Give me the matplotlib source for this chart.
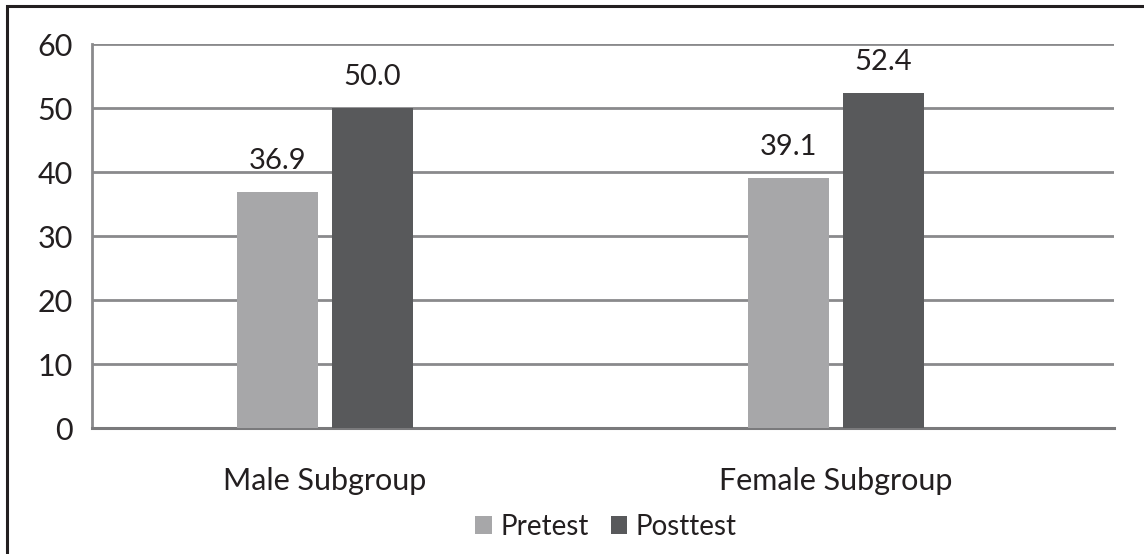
import matplotlib.pyplot as plt
from matplotlib.patches import Rectangle

plt.rcParams['font.family'] = ['Lato', 'DejaVu Sans']

# data
groups = ["Male Subgroup", "Female Subgroup"]
pretest = [36.9, 39.1]
posttest = [50.0, 52.4]
series_names = ["Pretest", "Posttest"]
yticks = [0, 10, 20, 30, 40, 50, 60]

fig = plt.figure(figsize=(11.44, 5.54), dpi=100)
ax = fig.add_axes([92 / 1144, 1 - 428 / 554, (1114 - 92) / 1144, (428 - 44) / 554])

x = range(len(groups))
w = 0.157
off = 0.093
b1 = ax.bar([i - off for i in x], pretest, width=w, color="#a7a7a9", label=series_names[0], zorder=3)
b2 = ax.bar([i + off for i in x], posttest, width=w, color="#58595b", label=series_names[1], zorder=3)

for bars, vals in [(b1, pretest), (b2, posttest)]:
    for rect, v in zip(bars, vals):
        ax.annotate(f"{v:.1f}", (rect.get_x() + rect.get_width() / 2, v),
                    xytext=(0, 13), textcoords="offset points",
                    ha="center", va="bottom", fontsize=21, color="#231f20")

ax.set_xlim(-0.456, 1.544)
ax.set_ylim(0, 60)
ax.set_yticks(yticks)
ax.set_xticks(list(x))
ax.set_xticklabels(groups)
ax.tick_params(axis="y", length=0, pad=14, labelsize=22, labelcolor="#231f20")
ax.tick_params(axis="x", length=0, pad=28, labelsize=22, labelcolor="#231f20")
ax.yaxis.grid(True, color="#8a8a8c", linewidth=2, zorder=0)
ax.set_axisbelow(True)

for s in ["top", "right"]:
    ax.spines[s].set_visible(False)
ax.spines["left"].set_color("#8a8a8c")
ax.spines["left"].set_linewidth(2)
ax.spines["bottom"].set_color("#7a7a7c")
ax.spines["bottom"].set_linewidth(2.2)

fig.legend(handles=[b1, b2], loc="center", bbox_to_anchor=(606 / 1144, 1 - 527 / 554),
           ncol=2, frameon=False, fontsize=20, handlelength=0.6, handleheight=0.6,
           handletextpad=0.3, columnspacing=0.8, labelcolor="#231f20")

# outer border (only top and left visible in the reference)
fig.patches.append(Rectangle((7 / 1144, -0.1), 1.2, 1 - 6 / 554 + 0.1,
                             transform=fig.transFigure, fill=False,
                             edgecolor="#231f20", linewidth=2.2))

fig.savefig("out.png", dpi=100)
